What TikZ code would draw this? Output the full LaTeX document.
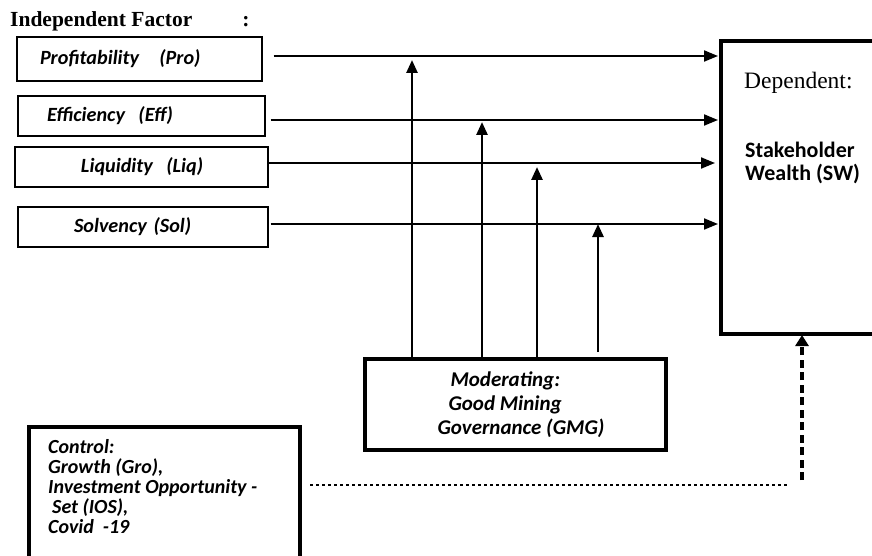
\documentclass[tikz,border=0pt]{standalone}
\usepackage{fontspec}
\usepackage{tikz}
\usetikzlibrary{calc}
\usetikzlibrary{arrows.meta}
\newfontfamily\lblfont{Carlito}
\newfontfamily\hdfont{Liberation Serif}
\newcommand{\lblsize}{\fontsize{20.2}{23}\selectfont}
\tikzset{
 fbox/.style={draw, line width=1.3pt, inner xsep=0pt, text width=#1, align=left, minimum height=40pt, font=\lblfont\lblsize\bfseries\itshape},
 thickbox/.style={draw, line width=4pt, inner sep=0pt},
 harr/.style={line width=2pt, -{Triangle[length=14pt,width=11pt]}, shorten >=3pt},
 varr/.style={line width=2.6pt, -{Triangle[length=13pt,width=11pt]}},
 dotline/.style={line width=2.5pt, dash pattern=on 2.5pt off 3.5pt},
 dashline/.style={line width=3.5pt, dash pattern=on 8pt off 4.5pt, -{Triangle[length=11pt,width=13pt]}}
}

\begin{document}
\begin{tikzpicture}[x=1pt, y=-1pt]
\useasboundingbox (0,0) rectangle (872,556);
\clip (0,0) rectangle (872,556);

\node[anchor=west, inner sep=0pt, font=\hdfont\fontsize{21.5}{24}\selectfont\bfseries] (hd) at (10,21) {Independent Factor\hspace{50pt}:};

\node[fbox=245pt, minimum height=44pt] (pro) at (139.5,59) {\hspace*{23pt}Profitability\ \ \ (Pro)};
\node[fbox=247pt] (eff) at (141.5,116) {\hspace*{29pt}Efficiency\ \ (Eff)};
\node[fbox=253pt] (liq) at (141.5,167) {\hspace*{66pt}Liquidity\ \ (Liq)};
\node[fbox=250pt] (sol) at (143,227) {\hspace*{56pt}Solvency (Sol)};

% dependent box runs past the right edge
\node[thickbox, draw=none, minimum width=240pt, minimum height=289pt] (dep) at (843,187.5) {};
\draw[line width=4pt] (dep.north east) -- (dep.north west) -- (dep.south west) -- (dep.south east);
\node[anchor=west, inner sep=0pt, font=\hdfont\fontsize{23.5}{26}\selectfont] (depT) at (744,83) {Dependent:};
\node[anchor=west, inner sep=0pt, align=left, font=\lblfont\fontsize{22}{23.5}\selectfont\bfseries] (swT) at (745,163) {Stakeholder\\Wealth (SW)};

\node[thickbox, minimum width=301pt, minimum height=91pt, align=left, font=\lblfont\fontsize{21}{24}\selectfont\bfseries\itshape] (mod) at (515.5,404.5) {\hspace*{24pt}Moderating:\\\hspace*{22pt}Good Mining\\\hspace*{11pt}Governance (GMG)};

\node[thickbox, minimum width=271pt, minimum height=143pt] (ctrl) at (164.5,498.5) {};
\node[anchor=north west, inner sep=0pt, align=left, font=\lblfont\fontsize{20}{20}\selectfont\bfseries\itshape] (ctrlT) at (48,439) {Control:\\Growth (Gro),\\Investment Opportunity -\\\hspace*{4pt}Set (IOS),\\Covid\ \ -19};

% independent -> dependent
\draw[harr] ([xshift=11pt,yshift=3pt]pro.east) -- ([yshift=3pt]pro.east -| dep.west);
\draw[harr] ([xshift=5pt,yshift=-4pt]eff.east) -- ([yshift=-4pt]eff.east -| dep.west);
\draw[harr, shorten >=6pt] ([yshift=4pt]liq.east) -- ([yshift=4pt]liq.east -| dep.west);
\draw[harr] ([xshift=2pt,yshift=3pt]sol.east) -- ([yshift=3pt]sol.east -| dep.west);

% moderating arrows
\coordinate (tPro) at (412,60);
\coordinate (tEff) at (482,122);
\coordinate (tLiq) at (537,167);
\coordinate (tSol) at (598,224);
\draw[varr] (mod.north -| tPro) -- (tPro);
\draw[varr] (mod.north -| tEff) -- (tEff);
\draw[varr] (mod.north -| tLiq) -- (tLiq);
\draw[varr, shorten <=5pt] (mod.north -| tSol) -- (tSol);

% control
\coordinate (cc) at (802,485);
\draw[dotline, shorten <=8pt, shorten >=15pt] (ctrl.east |- cc) -- (cc);
\draw[dashline, shorten <=5pt, shorten >=1pt] (cc) -- (cc |- dep.south);
\end{tikzpicture}
\end{document}
